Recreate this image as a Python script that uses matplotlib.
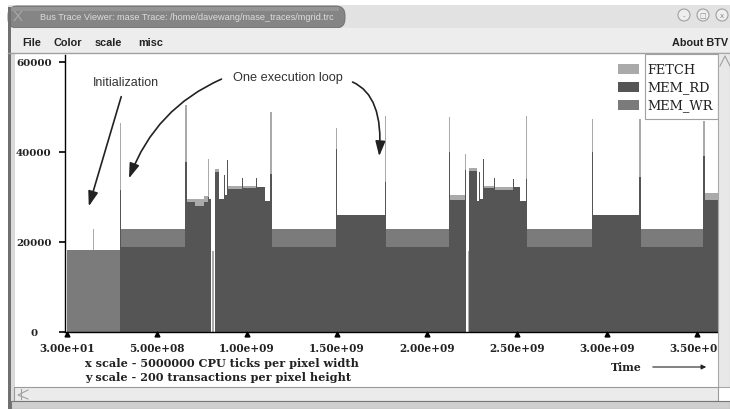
import numpy as np
import matplotlib.pyplot as plt
from matplotlib.patches import Rectangle, FancyBboxPatch, Circle, FancyArrowPatch

# bus trace, time in units of 1e8 CPU ticks, transactions in thousands
edges = [0.00, 1.42, 1.48, 2.94, 3.02, 6.58, 6.66, 7.10, 7.60, 7.85,
         7.91, 8.00, 8.08, 8.14, 8.22, 8.45, 8.70, 8.78, 8.90, 8.96,
         9.70, 9.76, 10.50, 10.56, 11.00, 11.30, 11.38, 14.94, 15.00, 17.64,
         17.72, 21.20, 21.26, 22.12, 22.18, 22.26, 22.32, 22.76, 22.90, 22.96,
         23.10, 23.16, 23.70, 23.76, 24.80, 24.86, 25.14, 25.50, 25.58, 29.14,
         29.22, 31.80, 31.88, 35.36, 35.42, 36.17]
mem_rd = [0, 0, 0, 31.5, 18.9, 37.8, 28.8, 28.0, 29.0, 30.0,
          29.5, 0, 0, 0, 35.5, 29.5, 35.0, 30.5, 38.3, 31.8,
          34.2, 32.0, 34.2, 32.3, 29.2, 35.1, 18.9, 40.6, 26.0, 33.3,
          18.9, 40.0, 29.3, 36.0, 0, 0, 35.8, 29.2, 35.6, 29.6,
          38.4, 32.0, 34.2, 31.6, 34.0, 32.2, 29.2, 34.0, 18.9, 40.0,
          26.0, 34.4, 18.9, 39.1, 29.4]
mem_wr = [18.3, 18.3, 18.3, 0, 4.0, 0, 0, 0, 0, 0,
          0, 0, 0, 0, 0, 0, 0, 0, 0, 0,
          0, 0, 0, 0, 0, 0, 4.0, 0, 0, 0,
          4.0, 0, 0, 0, 0, 0, 0, 0, 0, 0,
          0, 0, 0, 0, 0, 0, 0, 0, 4.0, 0,
          0, 0, 4.0, 0, 0]
fetch = [0, 4.6, 0, 14.9, 0, 12.6, 0.8, 1.6, 1.2, 8.4,
         0, 0, 18.0, 0, 0.7, 0, 0, 0, 0, 0.6,
         0, 0.5, 0, 0, 0, 13.8, 0, 4.7, 0, 14.7,
         0, 7.7, 1.2, 3.5, 0, 18.0, 0.6, 0, 0, 0,
         0, 0.4, 0, 0.6, 0, 0, 0, 14.0, 0, 7.3,
         0, 12.9, 0, 7.8, 1.4]

x_ticks = [0, 5, 10, 15, 20, 25, 30, 35]
x_labels = ['3.00e+01', '5.00e+08', '1.00e+09', '1.50e+09',
            '2.00e+09', '2.50e+09', '3.00e+09', '3.50e+09']
y_ticks = [0, 20, 40, 60]
y_labels = ['0', '20000', '40000', '60000']

series = ['FETCH', 'MEM_RD', 'MEM_WR']
colors = {'FETCH': '#aaaaaa', 'MEM_RD': '#555555', 'MEM_WR': '#7b7b7b'}

W, H = 730, 410
fig = plt.figure(figsize=(W / 100, H / 100), dpi=100)

# window chrome in pixel coords, origin top left
bg = fig.add_axes([0, 0, 1, 1], zorder=0)
bg.set_xlim(0, W)
bg.set_ylim(H, 0)
bg.axis('off')

bg.add_patch(Rectangle((8, 6), 722, 23, fc='#e2e2e2', ec='none'))
bg.add_patch(FancyBboxPatch((8, 7), 337, 22, boxstyle='round,pad=0,rounding_size=9',
                            fc='#858585', ec='#6a6a6a', lw=0.6))
bg.add_patch(Rectangle((9, 8), 330, 4, fc='#959595', ec='none'))
bg.text(18, 17, 'X', fontsize=11, color='#a8a8a8', ha='center', va='center',
        family='Liberation Sans')
bg.text(40, 17, 'Bus Trace Viewer: mase Trace: /home/davewang/mase_traces/mgrid.trc',
        fontsize=6.6, color='#dcdcdc', va='center', family='Liberation Sans')
for cx, glyph in [(684, '-'), (703, '□'), (722, 'x')]:
    bg.add_patch(Circle((cx, 16), 6, fc='#eeeeee', ec='#a0a0a0', lw=0.8))
    bg.text(cx, 16, glyph, fontsize=5, color='#888888', ha='center', va='center')

bg.add_patch(Rectangle((8, 29), 722, 25, fc='#ededed', ec='none'))
bg.plot([8, 730], [54, 54], color='#a0a0a0', lw=1)
for x, lbl in [(22, 'File'), (54, 'Color'), (95, 'scale'), (138, 'misc')]:
    bg.text(x, 43, lbl, fontsize=7.8, fontweight='bold', color='#222222',
            va='center', family='Liberation Sans')
bg.text(728, 43, 'About BTV', fontsize=7.8, fontweight='bold', color='#222222',
        va='center', ha='right', family='Liberation Sans')

bg.add_patch(Rectangle((8, 8), 3, 402, fc='#707070', ec='none'))
bg.add_patch(Rectangle((11, 54), 4, 350, fc='#dadada', ec='none'))

serif = 'DejaVu Serif'
bg.text(85, 364, 'x scale - 5000000 CPU ticks per pixel width', fontsize=8.1,
        fontweight='bold', family=serif, va='center', color='#222222')
bg.text(85, 378, 'y scale - 200 transactions per pixel height', fontsize=8.1,
        fontweight='bold', family=serif, va='center', color='#222222')
bg.text(611, 368, 'Time', fontsize=7.8, fontweight='bold', family=serif,
        va='center', color='#222222')
bg.annotate('', xy=(709, 368), xytext=(650, 368),
            arrowprops=dict(arrowstyle='-|>', lw=0.8, color='#222222', mutation_scale=7))

# the trace itself
x_left, x_right, y_top, y_bot = 65, 718, 56, 333
ax = fig.add_axes([x_left / W, 1 - y_bot / H, (x_right - x_left) / W, (y_bot - y_top) / H],
                  zorder=2)
ax.set_xlim(-(67 - x_left) / 18, (x_right - 67) / 18)
ax.set_ylim(0, (y_bot - y_top) / 4.5)

rd = np.array(mem_rd)
wr = np.array(mem_wr)
fe = np.array(fetch)
ax.stairs(rd, edges, baseline=0, fill=True, color=colors['MEM_RD'], lw=0)
ax.stairs(rd + wr, edges, baseline=rd, fill=True, color=colors['MEM_WR'], lw=0)
ax.stairs(rd + wr + fe, edges, baseline=rd + wr, fill=True, color=colors['FETCH'], lw=0)

ax.spines[['top', 'right']].set_visible(False)
for s in ['left', 'bottom']:
    ax.spines[s].set_linewidth(1)
    ax.spines[s].set_color('black')

ax.set_xticks(x_ticks, x_labels, fontsize=7.6, fontweight='bold', family=serif, color='#222222')
ax.tick_params(axis='x', length=0, pad=7)
ax.plot(x_ticks, [-0.55] * len(x_ticks), marker='^', ls='none', ms=3.5, color='black',
        clip_on=False)
ax.set_yticks(y_ticks, y_labels, fontsize=7.4, fontweight='bold', family=serif, color='#222222')
ax.tick_params(axis='y', length=4, width=1.2, pad=18.5)
for lbl in ax.get_yticklabels():
    lbl.set_ha('center')

# overlay: legend, notes, scrollbars
top = fig.add_axes([0, 0, 1, 1], zorder=5)
top.set_xlim(0, W)
top.set_ylim(H, 0)
top.axis('off')

top.add_patch(Rectangle((645, 55), 73, 65, fc='white', ec='#a0a0a0', lw=0.8))
for i, name in enumerate(series):
    yc = 70 + 18 * i
    top.add_patch(Rectangle((618, yc - 5), 21, 10, fc=colors[name], ec='none'))
    top.text(647, yc, name, fontsize=9.4, family=serif, va='center', color='#222222')

top.text(93, 83, 'Initialization', fontsize=9, family='Liberation Sans', va='center',
         color='#333333')
top.text(233, 78, 'One execution loop', fontsize=9.2, family='Liberation Sans',
         va='center', color='#333333')
arrow_kw = dict(arrowstyle='-|>,head_length=0.9,head_width=0.3', mutation_scale=10,
                color='#222222', lw=1.2)
top.add_patch(FancyArrowPatch((122, 95), (88, 210), **arrow_kw))
top.add_patch(FancyArrowPatch((224, 79), (128, 182),
                              connectionstyle='angle3,angleA=23,angleB=70', **arrow_kw))
top.add_patch(FancyArrowPatch((350, 82), (379, 160),
                              connectionstyle='angle3,angleA=-20,angleB=85', **arrow_kw))

top.add_patch(Rectangle((718, 54), 12, 334, fc='#e8e8e8', ec='#a8a8a8', lw=0.8))
top.add_patch(Rectangle((14, 388), 704, 14, fc='#ebebeb', ec='#9a9a9a', lw=0.8))
top.add_patch(Rectangle((11, 402), 719, 8, fc='#cfcfcf', ec='#777777', lw=0.8))
top.plot([28, 18, 28], [391, 396, 400], color='#a0a0a0', lw=0.8)
top.plot([21, 21], [390, 400], color='#a0a0a0', lw=0.8)
top.plot([720, 725, 730], [67, 57, 67], color='#a0a0a0', lw=0.8)

fig.savefig('out.png', dpi=100)
